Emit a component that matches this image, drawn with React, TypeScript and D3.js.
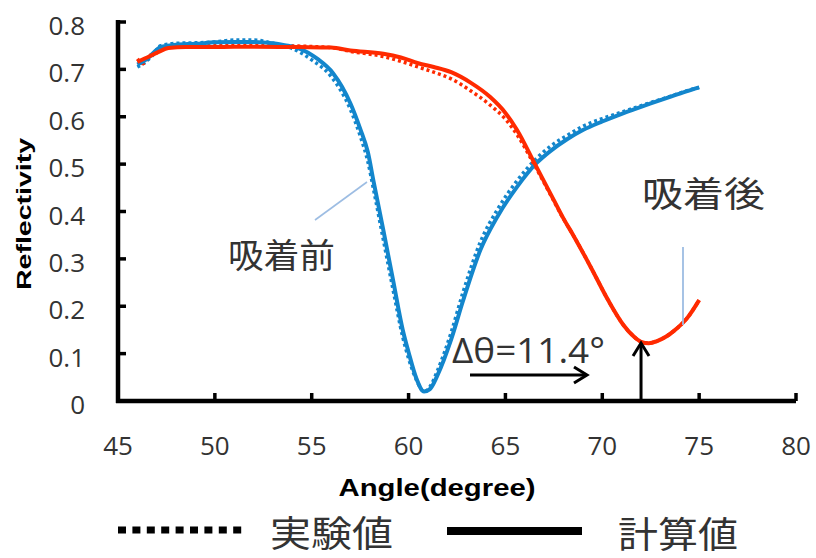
import React from "react";
import * as d3 from "d3";

// ---- data ----
const blueCalcAngles = [46.0,46.5,47.2,48,49,50,51,52,53,53.6,54.3,55.3,56.1,57.0,57.5,57.9,58.2,58.7,59.2,59.7,60.0,60.4,60.8,61.1,61.5,62.2,62.8,63.7,64.6,65.6,66.6,67.3,68.2,69.0,70.0,70.8,71.6,72.5,73.5,74.3,75.0];
const blueCalcValues = [0.710,0.722,0.747,0.752,0.754,0.757,0.758,0.758,0.755,0.751,0.745,0.722,0.692,0.628,0.575,0.525,0.462,0.360,0.255,0.150,0.103,0.048,0.020,0.025,0.055,0.130,0.210,0.318,0.390,0.452,0.502,0.527,0.553,0.572,0.590,0.603,0.615,0.628,0.642,0.653,0.662];

const blueExpAngles = [46.0,46.4,46.8,47.2,48,49,50,51,52,53,54,55,56,57,57.5,57.9,58.2,58.7,59.2,59.7,60.0,60.4,60.8,61.1,61.5,62.2,62.8,63.7,64.6,65.6,66.6,67.3,68.2,69.0,70.0,70.8,71.6,72.5,73.5,74.3,75.0];
const blueExpValues = [0.705,0.715,0.730,0.750,0.755,0.756,0.758,0.762,0.762,0.755,0.744,0.720,0.685,0.615,0.560,0.505,0.445,0.340,0.235,0.135,0.090,0.045,0.020,0.030,0.065,0.145,0.228,0.335,0.405,0.465,0.512,0.537,0.561,0.580,0.596,0.607,0.618,0.630,0.643,0.654,0.662];

const redCalcAngles = [46.0,46.5,47.1,47.6,48.5,50,52,54.4,56,57,58.7,59.6,60.5,61.3,62.2,63.2,64.2,65.0,65.6,66.5,67.5,68.0,68.5,69.4,70.3,71.1,71.6,72.0,72.4,72.8,73.3,73.7,74.4,75.0];
const redCalcValues = [0.716,0.725,0.737,0.745,0.747,0.747,0.748,0.747,0.746,0.740,0.733,0.725,0.713,0.705,0.694,0.672,0.642,0.608,0.572,0.502,0.424,0.385,0.350,0.283,0.213,0.160,0.137,0.125,0.122,0.126,0.136,0.148,0.176,0.213];

const redExpAngles = [46.0,46.3,46.6,47.0,47.6,48.5,50,52,54.4,56,57,58.7,59.6,60.5,61.3,62.2,63.2,64.2,65.0,65.6,66.5,67.5,68.0,68.5,69.4,70.3,71.1,71.6,72.0,72.4,72.8,73.3,73.7,74.4,75.0];
const redExpValues = [0.722,0.712,0.728,0.735,0.748,0.750,0.750,0.751,0.749,0.746,0.738,0.727,0.717,0.705,0.694,0.680,0.655,0.625,0.595,0.562,0.498,0.422,0.384,0.350,0.283,0.213,0.160,0.137,0.125,0.122,0.126,0.136,0.148,0.176,0.213];

const xTicks = [45,50,55,60,65,70,75,80];
const yTicks = [0,0.1,0.2,0.3,0.4,0.5,0.6,0.7,0.8];

const labelBefore = "吸着前";
const labelAfter = "吸着後";
const labelDelta = "Δθ=11.4°";
const legendExp = "実験値";
const legendCalc = "計算値";
const xTitle = "Angle(degree)";
const yTitle = "Reflectivity";

const BLUE = "#1386cc";
const RED = "#ff2a00";
const TEXT = "#333333";
const LEADER = "#9dbde3";

export default function App() {
  const x = d3.scaleLinear().domain([45, 80]).range([118, 796]);
  const y = d3.scaleLinear().domain([0, 0.8]).range([401, 22]);

  const line = d3
    .line<[number, number]>()
    .x((d) => x(d[0]))
    .y((d) => y(d[1]))
    .curve(d3.curveMonotoneX);

  const zip = (a: number[], b: number[]) => a.map((v, i) => [v, b[i]] as [number, number]);

  const numFont = "'Open Sans', sans-serif";
  const cjkFont = "'Noto Sans CJK JP', sans-serif";

  return (
    <svg
      width={816}
      height={558}
      style={{ position: "absolute", left: 0, top: 0, background: "#fff" }}
    >
      {/* experimental (dotted) */}
      <path d={line(zip(blueExpAngles, blueExpValues)) || ""} fill="none" stroke={BLUE} strokeWidth={3.5} strokeDasharray="3 3" />
      <path d={line(zip(redExpAngles, redExpValues)) || ""} fill="none" stroke={RED} strokeWidth={3.5} strokeDasharray="3 3" />
      {/* calculated (solid) */}
      <path d={line(zip(blueCalcAngles, blueCalcValues)) || ""} fill="none" stroke={BLUE} strokeWidth={4} />
      <path d={line(zip(redCalcAngles, redCalcValues)) || ""} fill="none" stroke={RED} strokeWidth={4} />

      {/* axes */}
      <line x1={x(45)} x2={x(45)} y1={y(0.8) - 2} y2={y(0) + 2} stroke="#000" strokeWidth={4.5} />
      <line x1={x(45) - 2} x2={x(80)} y1={y(0)} y2={y(0)} stroke="#000" strokeWidth={4.5} />
      {yTicks.map((t) => (
        <g key={"y" + t}>
          <line x1={x(45)} x2={x(45) + 8} y1={y(t)} y2={y(t)} stroke="#000" strokeWidth={3.5} />
          <text x={85} y={y(t) + 3} textAnchor="end" dominantBaseline="central" fontFamily={numFont} fontSize={26} fill={TEXT}>
            {t === 0 ? "0" : t.toFixed(1)}
          </text>
        </g>
      ))}
      {xTicks.map((t) => (
        <g key={"x" + t}>
          <line x1={x(t)} x2={x(t)} y1={y(0)} y2={y(0) - 8} stroke="#000" strokeWidth={3.5} />
          <text x={x(t)} y={455} textAnchor="middle" fontFamily={numFont} fontSize={26} fill={TEXT}>
            {t}
          </text>
        </g>
      ))}

      {/* axis titles */}
      <text x={437} y={496} textAnchor="middle" fontFamily="'Liberation Sans', Arial, sans-serif" fontWeight="bold" fontSize={23} fill="#000" textLength={197} lengthAdjust="spacingAndGlyphs">
        {xTitle}
      </text>
      <text transform="translate(31,214) rotate(-90)" textAnchor="middle" fontFamily="'Liberation Sans', Arial, sans-serif" fontWeight="bold" fontSize={21} fill="#000" textLength={152} lengthAdjust="spacingAndGlyphs">
        {yTitle}
      </text>

      {/* annotations */}
      <line x1={315} y1={220} x2={367} y2={182} stroke={LEADER} strokeWidth={1.6} />
      <text x={228} y={268} fontFamily={cjkFont} fontSize={34} fill={TEXT} textLength={107} lengthAdjust="spacingAndGlyphs">
        {labelBefore}
      </text>
      <line x1={683} y1={247} x2={683} y2={325} stroke={LEADER} strokeWidth={1.8} />
      <text x={642} y={207} fontFamily={cjkFont} fontSize={35} fill={TEXT} textLength={123} lengthAdjust="spacingAndGlyphs">
        {labelAfter}
      </text>
      <text x={452} y={363} fontFamily={numFont} fontSize={34} fill={TEXT} textLength={153} lengthAdjust="spacingAndGlyphs">
        {labelDelta}
      </text>
      {/* horizontal arrow */}
      <line x1={470} y1={375} x2={586} y2={375} stroke="#000" strokeWidth={3} />
      <polyline points="574,367 587,375 574,383" fill="none" stroke="#000" strokeWidth={3} />
      {/* vertical arrow */}
      <line x1={x(72.0)} y1={y(0) - 1} x2={x(72.0)} y2={344} stroke="#000" strokeWidth={3} />
      <polyline points={`${x(72.0) - 8},356 ${x(72.0)},343 ${x(72.0) + 8},356`} fill="none" stroke="#000" strokeWidth={3} />

      {/* legend */}
      <line x1={118} y1={530} x2={247} y2={530} stroke="#000" strokeWidth={7} strokeDasharray="8 6.4" />
      <text x={270} y={547} fontFamily={cjkFont} fontSize={36} fill={TEXT} textLength={123} lengthAdjust="spacingAndGlyphs">
        {legendExp}
      </text>
      <line x1={447} y1={531} x2={582} y2={531} stroke="#000" strokeWidth={8} />
      <text x={618} y={548} fontFamily={cjkFont} fontSize={36} fill={TEXT} textLength={120} lengthAdjust="spacingAndGlyphs">
        {legendCalc}
      </text>
    </svg>
  );
}
